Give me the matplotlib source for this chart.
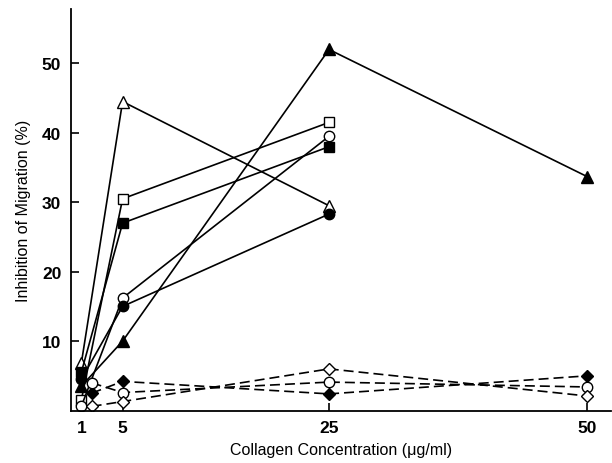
import matplotlib
matplotlib.use("Agg")
import matplotlib.pyplot as plt

plt.rcParams['font.family'] = ['Liberation Sans', 'DejaVu Sans']

# collagen concentration (ug/ml) and % inhibition
conc_full = [1, 5, 25, 50]
conc_short = [1, 5, 25]
conc_dash = [2, 5, 25, 50]

tri_filled = [3.5, 10.0, 52.0, 33.7]
tri_open = [6.8, 44.5, 29.5]
sq_open = [1.5, 30.5, 41.5]
sq_filled = [5.5, 27.0, 38.0]
circ_open = [0.6, 16.2, 39.5]
circ_filled = [4.5, 15.0, 28.3]

diam_filled = [2.5, 4.2, 2.4, 5.0]
circ_dash = [4.0, 2.6, 4.1, 3.4]
diam_open = [0.6, 1.3, 6.0, 2.1]

fig = plt.figure(figsize=(6.12, 4.64), dpi=100)
ax = fig.add_axes([0.116, 0.113, 0.882, 0.865])

solid = dict(color='black', lw=1.2, ls='-')
dash = dict(color='black', lw=1.2, ls=(0, (6, 3)))

ax.plot(conc_full, tri_filled, marker='^', ms=8.5, mfc='black', mec='black', **solid)
ax.plot(conc_short, tri_open, marker='^', ms=8.5, mfc='white', mec='black', **solid)
ax.plot(conc_short, sq_open, marker='s', ms=7, mfc='white', mec='black', **solid)
ax.plot(conc_short, sq_filled, marker='s', ms=7, mfc='black', mec='black', **solid)
ax.plot(conc_short, circ_open, marker='o', ms=7.5, mfc='white', mec='black', **solid)
ax.plot(conc_short, circ_filled, marker='o', ms=7.5, mfc='black', mec='black', **solid)

ax.plot(conc_dash, diam_filled, marker='D', ms=6.5, mfc='black', mec='black', **dash)
ax.plot(conc_dash, circ_dash, marker='o', ms=7.5, mfc='white', mec='black', **dash)
ax.plot(conc_dash, diam_open, marker='D', ms=6.5, mfc='white', mec='black', **dash)

ax.set_xlim(0, 52.3)
ax.set_ylim(0, 57.8)
ax.set_xticks([1, 5, 25, 50])
ax.set_yticks([10, 20, 30, 40, 50])
ax.tick_params(direction='in', length=6, width=1.2, labelsize=12.5, pad=7)
for lab in ax.get_xticklabels() + ax.get_yticklabels():
    lab.set_fontweight('bold')

ax.spines['top'].set_visible(False)
ax.spines['right'].set_visible(False)
ax.spines['left'].set_linewidth(1.3)
ax.spines['bottom'].set_linewidth(1.3)

ax.set_xlabel('Collagen Concentration (\u03bcg/ml)', fontsize=11.5, labelpad=5)
ax.set_ylabel('Inhibition of Migration (%)', fontsize=11.5, labelpad=8)

fig.savefig('out.png', dpi=100)
